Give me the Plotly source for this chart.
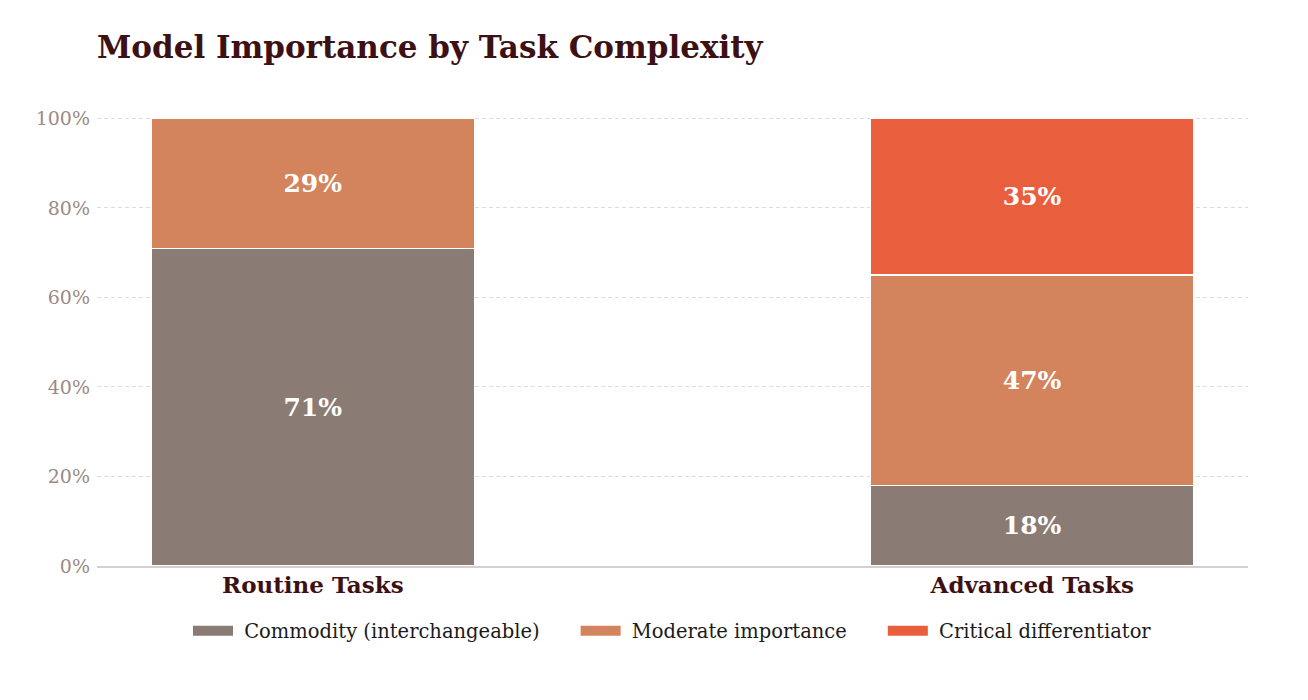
import plotly.graph_objects as go

categories = ["Routine Tasks", "Advanced Tasks"]
commodity = [71, 18]
moderate = [29, 47]
critical = [0, 35]

series_names = ["Commodity (interchangeable)", "Moderate importance", "Critical differentiator"]
colors = ["#8b7b75", "#d4845c", "#e95f3d"]

y_ticks = [0, 20, 40, 60, 80, 100]
y_tick_labels = ["0%", "20%", "40%", "60%", "80%", "100%"]

fig = go.Figure()
for name, vals, col in zip(series_names, [commodity, moderate, critical], colors):
    fig.add_trace(go.Bar(
        x=categories, y=vals, name=name, width=0.45, showlegend=False,
        marker=dict(color=col, line=dict(color="white", width=1.5)),
        text=[f"{v}%" if v > 0 else "" for v in vals],
        textposition="inside", insidetextanchor="middle",
        textfont=dict(family="DejaVu Serif", size=25, color="white", weight="bold"),
        hovertemplate="%{x}: %{y}%<extra>" + name + "</extra>",
    ))

# legend entries drawn as wide swatches, padded with nbsp for spacing
nb = "\u00a0"
for i, (name, col) in enumerate(zip(series_names, colors)):
    label = nb + name + (nb * 5 if i < len(series_names) - 1 else "")
    fig.add_trace(go.Scatter(x=[None], y=[None], mode="lines", name=label,
                             line=dict(color=col, width=12), hoverinfo="skip"))

fig.update_layout(
    barmode="stack",
    width=1308, height=700,
    paper_bgcolor="white", plot_bgcolor="white",
    font=dict(family="DejaVu Serif", color="#3d1114"),
    title=dict(text="<b>Model Importance by Task Complexity</b>", x=89 / 1308, xanchor="left",
               y=0.944, yanchor="middle", font=dict(size=31, color="#3d1114")),
    margin=dict(l=89, r=68, t=106, b=142),
    legend=dict(orientation="h", x=0.5, xanchor="center", y=-0.144, yanchor="middle",
                font=dict(size=19.5, color="#1a1a1a"), traceorder="normal", itemwidth=40),
    uniformtext=dict(mode="show", minsize=10),
)
fig.update_xaxes(range=[-0.3, 1.3], showgrid=False, showline=True, linecolor="#d6d0cc",
                 linewidth=1.5, ticks="", ticklabelstandoff=-2,
                 tickfont=dict(size=23, color="#3d1114", weight="bold"))
fig.update_yaxes(range=[0, 101], tickmode="array", tickvals=y_ticks, ticktext=y_tick_labels,
                 showgrid=True, gridcolor="#e2dcd8", griddash="4px,3px", gridwidth=1,
                 zeroline=False, tickfont=dict(size=19, color="#9a8a85"), ticks="",
                 ticklabelstandoff=6)

fig.write_html("out.html")
